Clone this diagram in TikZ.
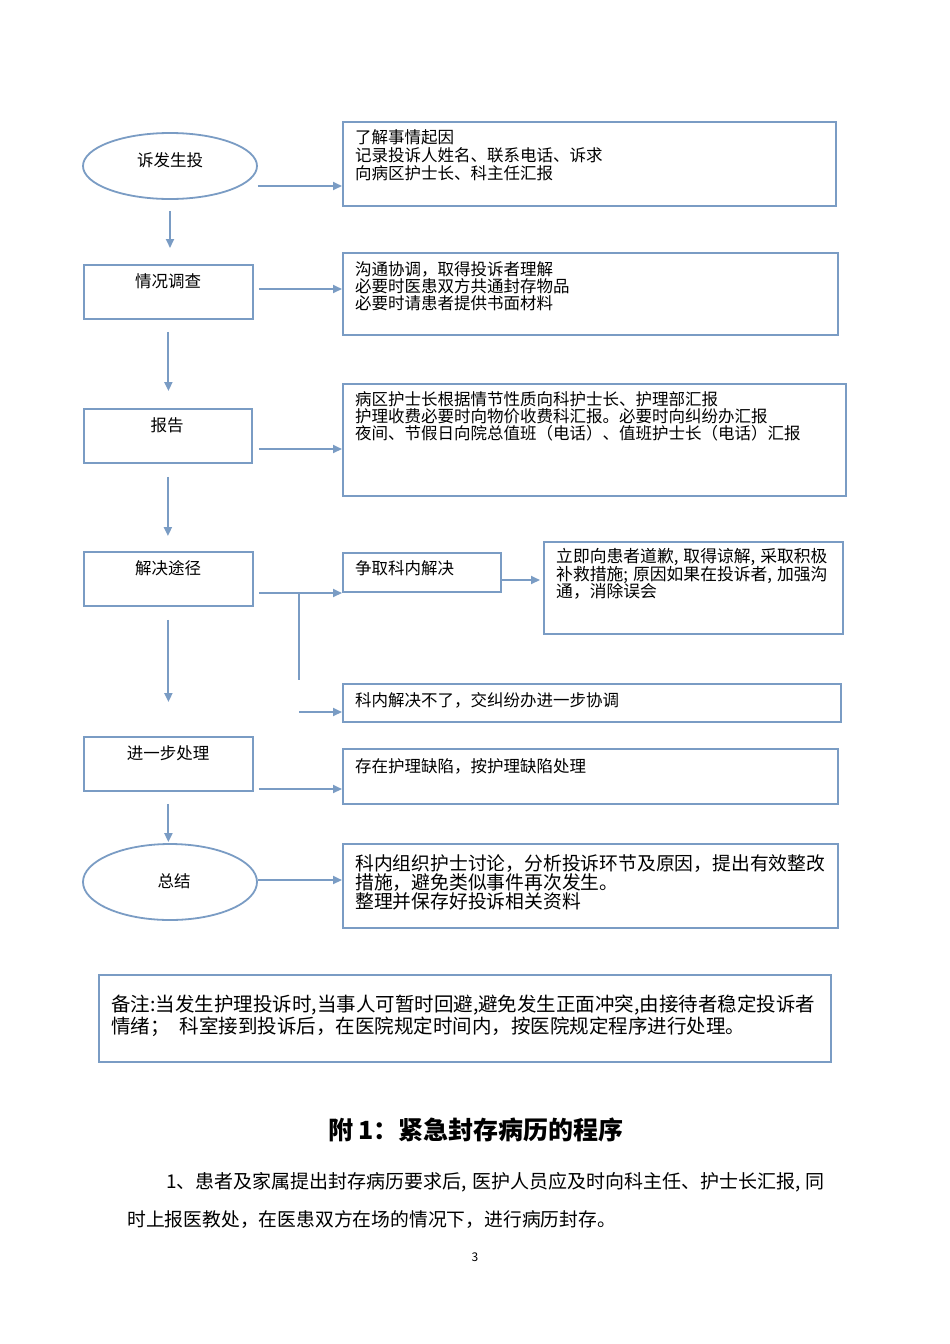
\documentclass[tikz,border=0pt]{standalone}
\usepackage{fontspec}
\setmainfont{Noto Sans CJK SC}
\usetikzlibrary{arrows.meta,shapes.geometric}
\definecolor{ln}{HTML}{7A9CC4}
\tikzset{
  rbox/.style 2 args={draw=ln,line width=1.8pt,anchor=north west,inner sep=0pt,
    minimum width=#1pt,minimum height=#2pt},
  ell/.style 2 args={draw=ln,line width=1.8pt,ellipse,inner sep=0pt,
    minimum width=#1pt,minimum height=#2pt},
  lbl/.style={inner sep=0pt,font=\fontsize{16.5}{17}\selectfont},
  txt/.style={anchor=north west,inner sep=0pt,align=left},
  arr/.style={draw=ln,line width=2pt,-{Triangle[length=9pt,width=8pt]}},
  seg/.style={draw=ln,line width=2pt}
}
\begin{document}
\begin{tikzpicture}[x=1pt,y=-1pt]
\useasboundingbox (0,0) rectangle (950,1344);
\fill[white] (0,0) rectangle (950,1344);

% left column
\node[ell={174}{66}] (e1) at (170,166) {};
\node[lbl] (t1) at (170,160) {诉发生投};
\node[rbox={169}{54}] (b1) at (83,264) {};
\node[lbl] (t2) at (168,281) {情况调查};
\node[rbox={168}{54}] (b2) at (83,408) {};
\node[lbl] (t3) at (167,425) {报告};
\node[rbox={169}{54}] (b3) at (83,551) {};
\node[lbl] (t4) at (168,568) {解决途径};
\node[rbox={169}{54}] (b4) at (83,736) {};
\node[lbl] (t5) at (168,753) {进一步处理};
\node[ell={174}{76}] (e2) at (170,882) {};
\node[lbl] (t6) at (174,881) {总结};

% right column
\node[rbox={493}{84}] (bA) at (342,121) {};
\node[txt,font=\fontsize{16.5}{18}\selectfont] (tA) at (355,129.5)
  {了解事情起因\\记录投诉人姓名、联系电话、诉求\\向病区护士长、科主任汇报};
\node[rbox={495}{82}] (bB) at (342,252) {};
\node[txt,font=\fontsize{16.5}{17}\selectfont] (tB) at (355,261.5)
  {沟通协调，取得投诉者理解\\必要时医患双方共通封存物品\\必要时请患者提供书面材料};
\node[rbox={503}{112}] (bC) at (342,383) {};
\node[txt,font=\fontsize{16.5}{16.7}\selectfont] (tC) at (355,391.5)
  {病区护士长根据情节性质向科护士长、护理部汇报\\护理收费必要时向物价收费科汇报。必要时向纠纷办汇报\\夜间、节假日向院总值班（电话）、值班护士长（电话）汇报};
\node[rbox={158}{39}] (bK) at (342,552) {};
\node[lbl,anchor=west] (tK) at (355,568) {争取科内解决};
\node[rbox={299}{92}] (bD) at (543,541) {};
\node[txt,font=\fontsize{16.8}{17.5}\selectfont] (tD) at (556,548.5)
  {立即向患者道歉,\hspace{5pt}取得谅解,\hspace{5pt}采取积极\\补救措施;\hspace{5pt}原因如果在投诉者,\hspace{5pt}加强沟\\通，消除误会};
\node[rbox={498}{38}] (bE) at (342,683) {};
\node[lbl,anchor=west] (tE) at (355,700) {科内解决不了，交纠纷办进一步协调};
\node[rbox={495}{55}] (bF) at (342,748) {};
\node[lbl,anchor=west] (tF) at (355,766) {存在护理缺陷，按护理缺陷处理};
\node[rbox={495}{84}] (bG) at (342,843) {};
\node[txt,font=\fontsize{18.8}{19}\selectfont] (tG) at (355,854)
  {科内组织护士讨论，分析投诉环节及原因，提出有效整改\\措施，避免类似事件再次发生。\\整理并保存好投诉相关资料};

% note
\node[rbox={732}{87}] (bN) at (98,974) {};
\node[txt,font=\fontsize{19.5}{20}\selectfont] (tN) at (111,995)
  {备注:当发生护理投诉时,当事人可暂时回避,避免发生正面冲突,由接待者稳定投诉者\\情绪；\hspace{10pt}科室接到投诉后，在医院规定时间内，按医院规定程序进行处理。};

% connectors
\draw[arr] (e1.east |- 0,186) -- (bA.west |- 0,186);
\draw[arr,shorten <=11pt,shorten >=16pt] (e1.south) -- (e1.south |- b1.north);
\draw[arr,shorten <=5pt] (b1.east |- 0,289) -- (bB.west |- 0,289);
\draw[arr,shorten <=12pt,shorten >=17pt] (b1.south) -- (b1.south |- b2.north);
\draw[arr,shorten <=6pt] (b2.east |- 0,449) -- (bC.west |- 0,449);
\draw[arr,shorten <=13pt,shorten >=15pt] (b2.south) -- (b2.south |- b3.north);
\coordinate (j) at (299,593);
\draw[arr,shorten <=5pt] (b3.east |- j) -- (bK.west |- j);
\draw[seg] (j) -- (j |- 0,680);
\draw[arr] (j |- 0,712) -- (bE.west |- 0,712);
\draw[arr,shorten >=3pt] (bK.east |- 0,580) -- (bD.west |- 0,580);
\draw[arr,shorten <=13pt,shorten >=34pt] (b3.south) -- (b3.south |- b4.north);
\draw[arr,shorten <=5pt] (b4.east |- 0,789) -- (bF.west |- 0,789);
\draw[arr,shorten <=12pt,shorten >=1pt] (b4.south) -- (b4.south |- e2.north);
\draw[arr] (e2.east |- 0,880) -- (bG.west |- 0,880);

% text below
\node[inner sep=0pt,font=\fontsize{25}{27}\selectfont\bfseries] (title) at (476,1130) {附 1：紧急封存病历的程序};
\node[inner sep=0pt,anchor=west,font=\fontsize{19}{20}\selectfont] (p1) at (166,1182)
  {1、患者及家属提出封存病历要求后,\hspace{5pt}医护人员应及时向科主任、护士长汇报,\hspace{5pt}同};
\node[inner sep=0pt,anchor=west,font=\fontsize{18.8}{20}\selectfont] (p2) at (127,1220)
  {时上报医教处，在医患双方在场的情况下，进行病历封存。};
\node[inner sep=0pt,font=\fontsize{12}{13}\selectfont] (pg) at (475,1257) {3};
\end{tikzpicture}
\end{document}
